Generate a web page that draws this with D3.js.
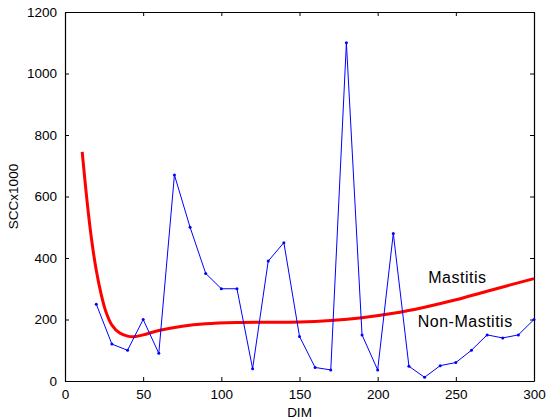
<!DOCTYPE html>
<html>
<head>
<meta charset="utf-8">
<script src="https://cdn.jsdelivr.net/npm/d3@7"></script>
<style>
  body { margin: 0; background: #fff; }
  text { font-family: "Liberation Sans", Arial, sans-serif; fill: #000; }
  .tick text { font-size: 13.5px; }
</style>
</head>
<body>
<div id="chart"></div>
<script>
// observed SCC (blue)
var dim = [20, 30, 40, 50, 60, 70, 80, 90, 100, 110, 120, 130, 140, 150, 160, 170, 180, 190, 200, 210, 220, 230, 240, 250, 260, 270, 280, 290, 300];
var scc = [250, 120, 100, 200, 90, 670, 500, 350, 300, 300, 40, 390, 450, 145, 44, 36, 1100, 150, 36, 480, 48, 12, 50, 60, 100, 150, 140, 150, 200];

// fitted threshold curve (red)
var curveDim = [11, 14, 17, 20, 23, 26, 30, 35, 40, 44, 50, 60, 75, 90, 110, 130, 150, 170, 190, 210, 230, 250, 270, 300];
var curveScc = [745, 590, 460, 360, 285, 228, 182, 156, 146, 144, 150, 164, 178, 186, 190, 191, 192, 197, 206, 220, 240, 264, 292, 333];

var xTicks = [0, 50, 100, 150, 200, 250, 300];
var yTicks = [0, 200, 400, 600, 800, 1000, 1200];

var margin = {top: 12, right: 13, bottom: 38, left: 65};
var width = 547 - margin.left - margin.right;
var height = 419 - margin.top - margin.bottom;

var svg = d3.select("#chart").append("svg")
    .attr("width", 547)
    .attr("height", 419);

var plot = svg.append("g")
    .attr("transform", "translate(" + margin.left + "," + margin.top + ")");

var xScale = d3.scaleLinear().domain([0, 300]).range([0, width]);
var yScale = d3.scaleLinear().domain([0, 1200]).range([height, 0]);

// axes, ticks pointing inward on all four sides
plot.append("g")
    .attr("transform", "translate(0," + height + ")")
    .call(d3.axisBottom(xScale).tickValues(xTicks).tickFormat(d3.format("d")).tickSizeInner(-4).tickSizeOuter(0).tickPadding(8));
plot.append("g")
    .call(d3.axisTop(xScale).tickValues(xTicks).tickSizeInner(-4).tickSizeOuter(0).tickFormat(""));
plot.append("g")
    .call(d3.axisLeft(yScale).tickValues(yTicks).tickFormat(d3.format("d")).tickSizeInner(-4).tickSizeOuter(0).tickPadding(8));
plot.append("g")
    .attr("transform", "translate(" + width + ",0)")
    .call(d3.axisRight(yScale).tickValues(yTicks).tickSizeInner(-4).tickSizeOuter(0).tickFormat(""));

plot.selectAll(".domain").attr("stroke", "#000").attr("stroke-width", 1.2);
plot.selectAll(".tick line").attr("stroke", "#000");
plot.selectAll(".tick text").attr("fill", "#000");

// red curve
var curveLine = d3.line()
    .x(function(d, i) { return xScale(curveDim[i]); })
    .y(function(d) { return yScale(d); })
    .curve(d3.curveCatmullRom.alpha(0.5));

plot.append("path")
    .datum(curveScc)
    .attr("d", curveLine)
    .attr("fill", "none")
    .attr("stroke", "#ff0000")
    .attr("stroke-width", 3);

// blue observed line
var obsLine = d3.line()
    .x(function(d, i) { return xScale(dim[i]); })
    .y(function(d) { return yScale(d); });

plot.append("path")
    .datum(scc)
    .attr("d", obsLine)
    .attr("fill", "none")
    .attr("stroke", "#0000ff")
    .attr("stroke-width", 1);

plot.selectAll("circle.obs")
    .data(scc)
    .enter()
    .append("circle")
    .attr("class", "obs")
    .attr("cx", function(d, i) { return xScale(dim[i]); })
    .attr("cy", function(d) { return yScale(d); })
    .attr("r", 1.5)
    .attr("fill", "#0000ff");

// region labels
plot.append("text")
    .attr("x", xScale(251))
    .attr("y", yScale(320))
    .attr("text-anchor", "middle")
    .style("font-size", "16px")
    .style("letter-spacing", "0.5px")
    .text("Mastitis");

plot.append("text")
    .attr("x", xScale(256))
    .attr("y", yScale(177))
    .attr("text-anchor", "middle")
    .style("font-size", "16px")
    .style("letter-spacing", "0.5px")
    .text("Non-Mastitis");

// axis titles
svg.append("text")
    .attr("x", margin.left + width / 2)
    .attr("y", 417)
    .attr("text-anchor", "middle")
    .style("font-size", "13.5px")
    .text("DIM");

svg.append("text")
    .attr("transform", "translate(18," + (margin.top + height / 2) + ") rotate(-90)")
    .attr("text-anchor", "middle")
    .style("font-size", "13.5px")
    .text("SCCx1000");
</script>
</body>
</html>
